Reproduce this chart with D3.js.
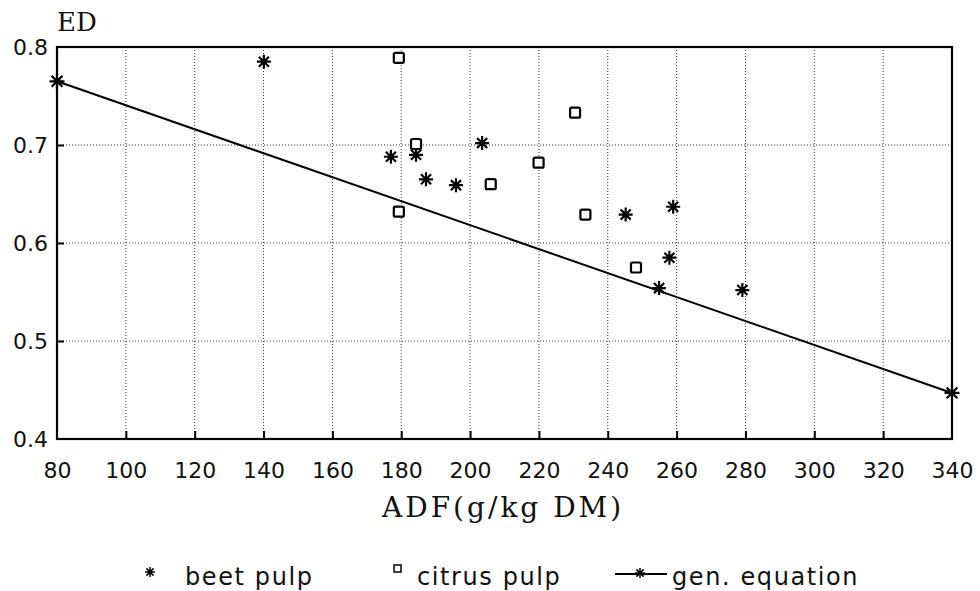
<!DOCTYPE html>
<html><head><meta charset="utf-8">
<script src="https://cdn.jsdelivr.net/npm/d3@7"></script>
<style>body{margin:0;background:#fff}</style>
</head><body>
<svg id="c" width="980" height="591"></svg>
<script>
const xTicks = [80,100,120,140,160,180,200,220,240,260,280,300,320,340];
const yTicks = [0.4,0.5,0.6,0.7,0.8];
const yTickLabels = ["0.4","0.5","0.6","0.7","0.8"];
const beetX = [140.1,177.0,184.3,187.2,195.9,203.5,245.2,259.0,257.9,254.9,279.1];
const beetY = [0.785,0.688,0.690,0.665,0.659,0.702,0.629,0.637,0.585,0.554,0.552];
const citrusX = [179.3,184.3,179.3,206.0,219.9,230.5,233.5,248.2];
const citrusY = [0.789,0.701,0.632,0.660,0.682,0.733,0.629,0.575];
const eqX = [80,340];
const eqY = [0.765,0.447];
const legendLabels = ["beet pulp","citrus pulp","gen. equation"];

const svg = d3.select("#c");
const L=57,R=952,T=47,B=439;
const x = d3.scaleLinear().domain([80,340]).range([L,R]);
const y = d3.scaleLinear().domain([0.4,0.8]).range([B,T]);
const sans = "'DejaVu Sans', sans-serif";
const serif = "'DejaVu Serif', serif";

// grid
const g = svg.append("g");
g.selectAll(".vg").data(xTicks.slice(1,-1)).join("line")
 .attr("x1",d=>x(d)).attr("x2",d=>x(d)).attr("y1",T).attr("y2",B)
 .attr("stroke","#333").attr("stroke-width",1).attr("stroke-dasharray","1,2");
g.selectAll(".hg").data(yTicks.slice(1,-1)).join("line")
 .attr("y1",d=>y(d)).attr("y2",d=>y(d)).attr("x1",L).attr("x2",R)
 .attr("stroke","#333").attr("stroke-width",1).attr("stroke-dasharray","1,2");

// axes via d3 axis
const xAxis = d3.axisBottom(x).tickValues(xTicks).tickSize(0).tickSizeOuter(0).tickPadding(39);
const xa = svg.append("g").attr("transform",`translate(0,${B})`).call(xAxis);
xa.select(".domain").remove();
xa.selectAll(".tick").filter(d=>d>80&&d<340).append("line").attr("y1",-8).attr("y2",0).attr("stroke","#000").attr("stroke-width",2);
xa.selectAll(".tick text").attr("font-family",sans).attr("font-size",22).attr("fill","#111").attr("dy","0");

const yAxis = d3.axisLeft(y).tickValues(yTicks).tickFormat((d,i)=>yTickLabels[i]).tickSize(0).tickPadding(9).tickSizeOuter(0);
const ya = svg.append("g").attr("transform",`translate(${L},0)`).call(yAxis);
ya.select(".domain").remove();
ya.selectAll(".tick text").attr("font-family",sans).attr("font-size",22).attr("fill","#111").attr("dy","0.36em");
ya.selectAll(".tick").filter(d=>d>0.41&&d<0.79).append("line").attr("x1",0).attr("x2",7).attr("stroke","#000").attr("stroke-width",2);

// frame
svg.append("rect").attr("x",L).attr("y",T).attr("width",R-L).attr("height",B-T)
 .attr("fill","none").attr("stroke","#000").attr("stroke-width",2.2);

// equation line
const line = d3.line().x(d=>x(d[0])).y(d=>y(d[1]));
svg.append("path").datum(eqX.map((v,i)=>[v,eqY[i]])).attr("d",line)
 .attr("fill","none").attr("stroke","#000").attr("stroke-width",2);

function star(s){const a=s/2,b=a*0.72;return `M0,${-a}V${a}M${-a},0H${a}M${-b},${-b}L${b},${b}M${-b},${b}L${b},${-b}`;}
svg.append("g").selectAll("path").data(beetX.map((v,i)=>[v,beetY[i]])).join("path")
 .attr("transform",d=>`translate(${x(d[0])},${y(d[1])})`).attr("d",star(14))
 .attr("stroke","#000").attr("stroke-width",2.2).attr("fill","none");
svg.append("g").selectAll("path").data(eqX.map((v,i)=>[v,eqY[i]])).join("path")
 .attr("transform",d=>`translate(${x(d[0])},${y(d[1])})`).attr("d",star(15))
 .attr("stroke","#000").attr("stroke-width",2.2).attr("fill","none");
svg.append("g").selectAll("rect").data(citrusX.map((v,i)=>[v,citrusY[i]])).join("rect")
 .attr("x",d=>x(d[0])-5).attr("y",d=>y(d[1])-5).attr("width",10).attr("height",10).attr("rx",1.5)
 .attr("stroke","#000").attr("stroke-width",2.2).attr("fill","#fff");

// titles
svg.append("text").attr("x",57).attr("y",31).text("ED").attr("font-family",serif).attr("font-size",26).attr("fill","#111");
svg.append("text").attr("x",382).attr("y",517).text("ADF(g/kg DM)")
 .attr("font-family",serif).attr("font-size",28).attr("letter-spacing",3).attr("fill","#111");

// legend
const lg = svg.append("g").attr("font-family",sans).attr("font-size",24).attr("letter-spacing",1.6).attr("fill","#111");
lg.append("path").attr("transform","translate(150,572)").attr("d",star(10)).attr("stroke","#000").attr("stroke-width",1.5);
lg.append("text").attr("x",185).attr("y",585).text(legendLabels[0]);
lg.append("rect").attr("x",394).attr("y",565).attr("width",7).attr("height",7).attr("fill","none").attr("stroke","#000").attr("stroke-width",1.5);
lg.append("text").attr("x",417).attr("y",585).text(legendLabels[1]);
lg.append("line").attr("x1",615).attr("x2",667).attr("y1",574).attr("y2",574).attr("stroke","#000").attr("stroke-width",2);
lg.append("path").attr("transform","translate(640,573)").attr("d",star(10)).attr("stroke","#000").attr("stroke-width",1.5);
lg.append("text").attr("x",672).attr("y",585).text(legendLabels[2]);
</script>
</body></html>
